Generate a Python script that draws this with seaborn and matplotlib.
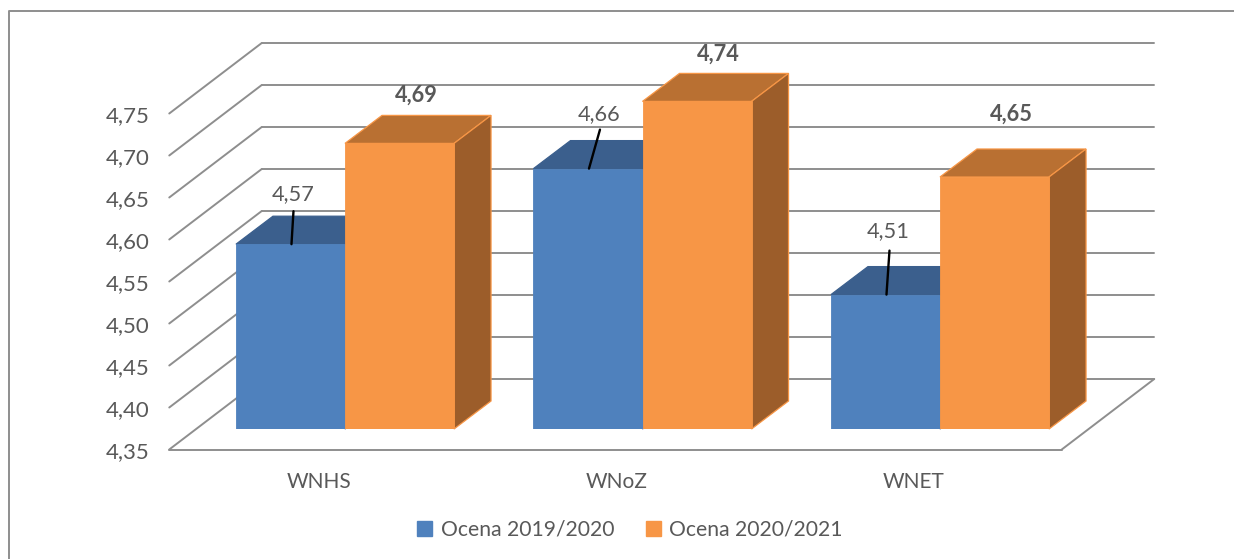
import matplotlib
matplotlib.use("Agg")
import matplotlib.pyplot as plt
from matplotlib.lines import Line2D
from matplotlib.patches import Polygon
from matplotlib.transforms import IdentityTransform
import pandas as pd
import seaborn as sns

# Values
categories = ["WNHS", "WNoZ", "WNET"]
series_names = ["Ocena 2019/2020", "Ocena 2020/2021"]
ocena_2019 = [4.57, 4.66, 4.51]
ocena_2020 = [4.69, 4.74, 4.65]
ticks = [4.35, 4.40, 4.45, 4.50, 4.55, 4.60, 4.65, 4.70, 4.75]

# Label placement relative to the top of each bar (pixels)
label_shift = [[(3, 50), (11, 55), (3, 64)], [(17, 48), (21, 47), (17, 63)]]
leader_ends = [(3, 33), (12, 39), (4, 44)]

front_color = ["#4F81BD", "#F79646"]
top_color = ["#3B5F8D", "#B97032"]
side_color = ["#3B5F8D", "#9C5D2A"]
edge_color = ["#4F81BD", "#F79646"]
grid_color = "#8E8E8E"
text_color = "#595959"

W, H = 1234, 559
sns.set_style("white")
plt.rcParams["font.family"] = ["Lato", "DejaVu Sans"]

df = pd.DataFrame({
    "kategoria": categories * 2,
    "ocena": ocena_2019 + ocena_2020,
    "rok": [series_names[0]] * 3 + [series_names[1]] * 3,
})

fig = plt.figure(figsize=(W / 100, H / 100), dpi=100, facecolor="white")
ax = fig.add_axes([196.25 / W, (H - 429) / H, 892.5 / W, 420 / H])
sns.barplot(data=df, x="kategoria", y="ocena", hue="rok", order=categories,
            palette=front_color, width=0.733, saturation=1, ax=ax)
ax.set_xlim(-0.5, 2.5)
ax.set_ylim(4.35, 4.85)
ax.axis("off")
ax.get_legend().remove()
fig.canvas.draw()


def px(x, v, dx=0, dy=0):
    # data position moved by some pixels, y up, in display coordinates
    a, b = ax.transData.transform((x, v))
    return a + dx, b + dy


ident = IdentityTransform()
front_off = (-27, -20.5)
back_off = (65.5, 50)
depth = (37, 28)


def add_line(p, q, color=grid_color, lw=1.4, z=1):
    ax.add_line(Line2D([p[0], q[0]], [p[1], q[1]], color=color, lw=lw, zorder=z,
                       transform=ident, clip_on=False, solid_capstyle="round"))


# walls and floor
for v in ticks:
    add_line(px(-0.5, v, *front_off), px(-0.5, v, *back_off))
    add_line(px(-0.5, v, *back_off), px(2.5, v, *back_off))
    label = f"{v:.2f}".replace(".", ",")
    tx, ty = px(-0.5, v, front_off[0] - 20, front_off[1] - 3)
    ax.text(tx, ty, label, transform=ident, ha="right", va="center",
            fontsize=16, color=text_color)
add_line(px(-0.5, ticks[0], *front_off), px(2.5, ticks[0], *front_off))
add_line(px(2.5, ticks[0], *front_off), px(2.5, ticks[0], *back_off))

# depth faces of the bars, blue series first so orange sits in front
for s, container in enumerate(ax.containers):
    base = 3 + 2 * s
    for i, bar in enumerate(container):
        bar.set_zorder(base + 1)
        bar.set_edgecolor(edge_color[s])
        bar.set_linewidth(0.6)
        x0, x1 = bar.get_x(), bar.get_x() + bar.get_width()
        v = bar.get_height() + bar.get_y()
        y0 = ticks[0]
        dx, dy = depth
        top = [px(x0, v), px(x1, v), px(x1, v, dx, dy), px(x0, v, dx, dy)]
        side = [px(x1, v), px(x1, y0), px(x1, y0, dx, dy), px(x1, v, dx, dy)]
        ax.add_patch(Polygon(top, closed=True, transform=ident, clip_on=False, zorder=base,
                             facecolor=top_color[s], edgecolor=edge_color[s] if s else top_color[s], lw=0.9))
        ax.add_patch(Polygon(side, closed=True, transform=ident, clip_on=False, zorder=base,
                             facecolor=side_color[s], edgecolor=edge_color[s] if s else side_color[s], lw=0.9))

# value labels
for s, values in enumerate([ocena_2019, ocena_2020]):
    for i, v in enumerate(values):
        bar = ax.containers[s][i]
        xc = bar.get_x() + bar.get_width() / 2
        sx, sy = label_shift[s][i]
        tx, ty = px(xc, v, sx, sy)
        ax.text(tx, ty, f"{v:.2f}".replace(".", ","), transform=ident, ha="center", va="center",
                fontsize=15.7, color=text_color, fontweight="bold" if s else "normal", zorder=12)
        if s == 0:
            ex, ey = leader_ends[i]
            add_line(px(xc, v, 1, 0), px(xc, v, ex, ey), color="black", lw=1.7, z=11)

# category labels
for i, name in enumerate(categories):
    tx, ty = px(i, ticks[0], -26, -53)
    ax.text(tx, ty, name, transform=ident, ha="center", va="center", fontsize=15, color=text_color)

# legend
handles = [Polygon([(0, 0)], facecolor=c, edgecolor=c) for c in front_color]
fig.legend(handles, series_names, loc="center", bbox_to_anchor=(630 / W, (H - 530) / H),
           ncol=2, frameon=False, fontsize=15.2, labelcolor=text_color,
           handlelength=0.7, handleheight=0.7, handletextpad=0.4, columnspacing=1.5)

# frame, only left and top edges are visible in the crop
fig.add_artist(Line2D([9 / W, 9 / W, 1], [0, (H - 11) / H, (H - 11) / H],
                      color="#8E8E8E", lw=1.4, transform=fig.transFigure))

fig.savefig("out.png", dpi=100, facecolor="white")
